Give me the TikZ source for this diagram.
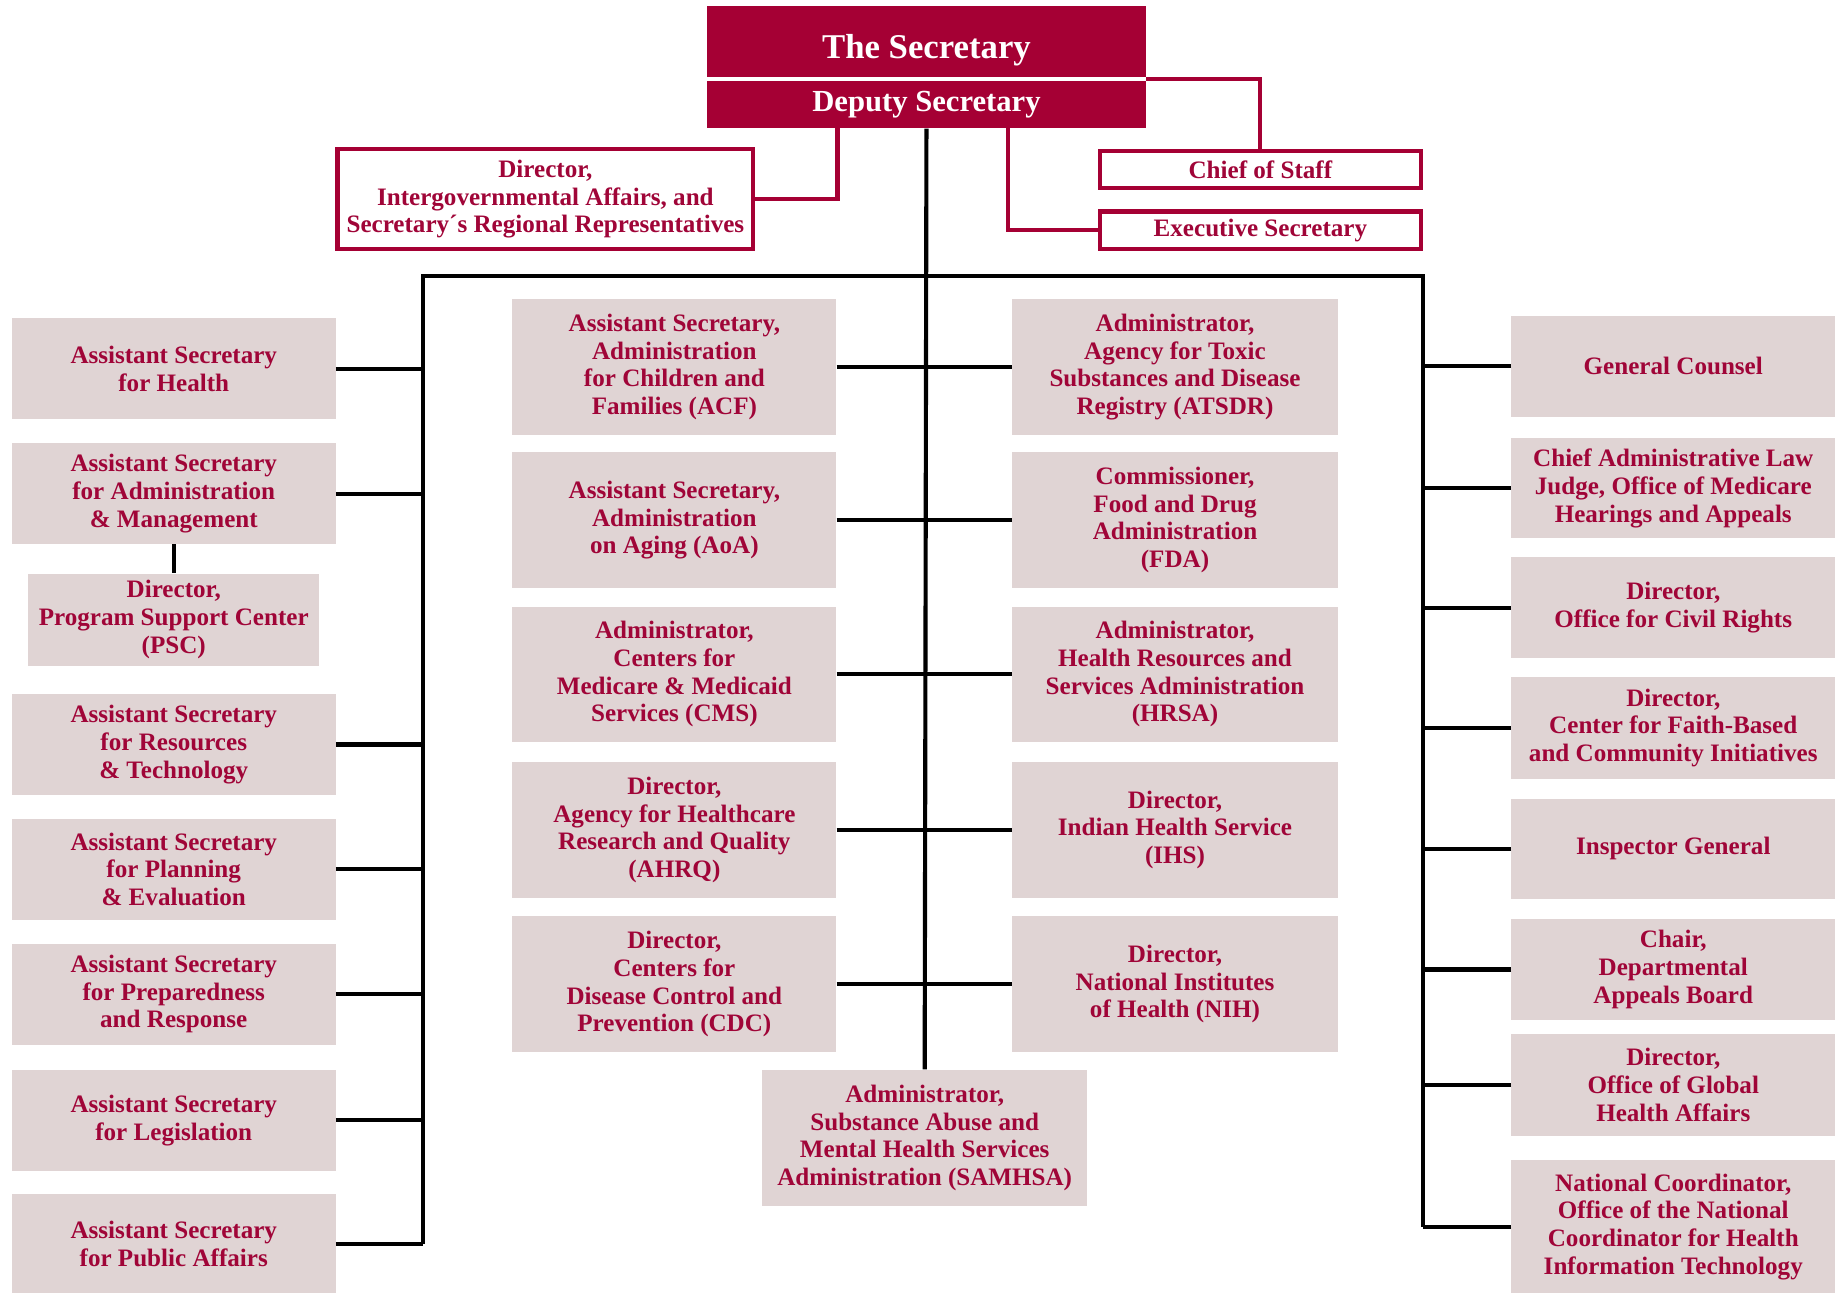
\documentclass[tikz,border=0pt]{standalone}
\usepackage{fontspec}
\setmainfont{Liberation Serif}
\definecolor{hhsred}{HTML}{A50034}
\definecolor{txtred}{HTML}{A00538}
\definecolor{boxfill}{HTML}{E0D4D4}
\begin{document}
\begin{tikzpicture}[x=1pt,y=-1pt,
  unit/.style={fill=boxfill,text=txtred,font=\fontsize{21.3}{23.5}\selectfont\bfseries,align=center,inner sep=0pt,minimum width=275pt,minimum height=86pt},
  tall/.style={unit,minimum height=115pt},
  top/.style={fill=hhsred,text=white,inner sep=0pt,minimum width=373pt,align=center},
  redbox/.style={draw=hhsred,line width=3.5pt,fill=white,text=txtred,font=\fontsize{21.3}{23.5}\selectfont\bfseries,align=center,inner sep=0pt},
  redline/.style={draw=hhsred,line width=3.5pt},
  blk/.style={draw=black,line width=3.5pt}]
\useasboundingbox (0,0) rectangle (1568,1098);
% top
\node[top,minimum height=60pt,font=\fontsize{29.5}{32}\selectfont\bfseries,text height=36pt,text depth=6.5pt] (sec) at (786.5,35) {The Secretary};
\node[top,minimum height=40pt,font=\fontsize{26}{28}\selectfont\bfseries] (dep) at (786.5,89) {Deputy Secretary};
\node[redbox,minimum width=353pt,minimum height=85pt] (iga) at (463,169) {Director,\\Intergovernmental Affairs, and\\Secretary´s Regional Representatives};
\node[redbox,minimum width=273pt,minimum height=31pt] (cos) at (1070,144) {Chief of Staff};
\node[redbox,minimum width=273pt,minimum height=32pt] (exs) at (1070,195.5) {Executive Secretary};
\coordinate (igaj) at (711,109);
\coordinate (exsj) at (856,109);
\draw[redline] (iga.east) -| (igaj);
\draw[redline] (exsj) |- (exs.west);
\coordinate (secj) at (973,67);
\draw[redline] (secj) -| (cos.north);
% left column
\node[unit] (ash) at (147.5,313) {Assistant Secretary\\for Health};
\node[unit] (asam) at (147.5,419) {Assistant Secretary\\for Administration\\\& Management};
\node[unit,minimum width=247pt,minimum height=78pt] (psc) at (147.5,526) {Director,\\Program Support Center\\(PSC)};
\node[unit] (asrt) at (147.5,632) {Assistant Secretary\\for Resources\\\& Technology};
\node[unit] (aspe) at (147.5,738) {Assistant Secretary\\for Planning\\\& Evaluation};
\node[unit] (aspr) at (147.5,844) {Assistant Secretary\\for Preparedness\\and Response};
\node[unit] (asl) at (147.5,951) {Assistant Secretary\\for Legislation};
\node[unit,minimum height=84pt] (aspa) at (147.5,1056) {Assistant Secretary\\for Public Affairs};
% middle columns
\node[tall] (acf) at (572.5,311.5) {Assistant Secretary,\\Administration\\for Children and\\Families (ACF)};
\node[tall] (aoa) at (572.5,441.5) {Assistant Secretary,\\Administration\\on Aging (AoA)};
\node[tall] (cms) at (572.5,572.5) {Administrator,\\Centers for\\Medicare \& Medicaid\\Services (CMS)};
\node[tall] (ahrq) at (572.5,704.5) {Director,\\Agency for Healthcare\\Research and Quality\\(AHRQ)};
\node[tall] (cdc) at (572.5,835.5) {Director,\\Centers for\\Disease Control and\\Prevention (CDC)};
\node[tall,minimum width=277pt] (atsdr) at (997.5,311.5) {Administrator,\\Agency for Toxic\\Substances and Disease\\Registry (ATSDR)};
\node[tall,minimum width=277pt] (fda) at (997.5,441.5) {Commissioner,\\Food and Drug\\Administration\\(FDA)};
\node[tall,minimum width=277pt] (hrsa) at (997.5,572.5) {Administrator,\\Health Resources and\\Services Administration\\(HRSA)};
\node[tall,minimum width=277pt] (ihs) at (997.5,704.5) {Director,\\Indian Health Service\\(IHS)};
\node[tall,minimum width=277pt] (nih) at (997.5,835.5) {Director,\\National Institutes\\of Health (NIH)};
\node[tall,minimum width=276pt,minimum height=116pt] (samhsa) at (785,966) {Administrator,\\Substance Abuse and\\Mental Health Services\\Administration (SAMHSA)};
% right column
\node[unit] (gc) at (1420.5,311) {General Counsel};
\node[unit,minimum height=85pt] (alj) at (1420.5,414.5) {Chief Administrative Law\\Judge, Office of Medicare\\Hearings and Appeals};
\node[unit] (ocr) at (1420.5,516) {Director,\\Office for Civil Rights};
\node[unit] (cfbci) at (1420.5,618) {Director,\\Center for Faith-Based\\and Community Initiatives};
\node[unit,minimum height=85pt] (ig) at (1420.5,720.5) {Inspector General};
\node[unit] (dab) at (1420.5,823) {Chair,\\Departmental\\Appeals Board};
\node[unit] (ogha) at (1420.5,921) {Director,\\Office of Global\\Health Affairs};
\node[unit,minimum height=113pt] (onc) at (1420.5,1041.5) {National Coordinator,\\Office of the National\\Coordinator for Health\\Information Technology};
% black connectors
\coordinate (lbt) at (359,234);
\coordinate (rbt) at (1208,234);
\draw[blk] (dep.south) -- (samhsa.north);
\draw[blk] (lbt |- aspa.east) -- (lbt) -- (rbt) -- (rbt |- onc.west);
\foreach \n in {ash,asam,asrt,aspe,aspr,asl,aspa} \draw[blk] (\n.east) -- (\n.east -| lbt);
\foreach \n in {gc,alj,ocr,cfbci,ig,dab,ogha,onc} \draw[blk] (\n.west) -- (\n.west -| rbt);
\draw[blk] (acf.east) -- (atsdr.west);
\draw[blk] (aoa.east) -- (fda.west);
\draw[blk] (cms.east) -- (hrsa.west);
\draw[blk] (ahrq.east) -- (ihs.west);
\draw[blk] (cdc.east) -- (nih.west);
\draw[blk] (asam.south) -- (psc.north);
\end{tikzpicture}
\end{document}
